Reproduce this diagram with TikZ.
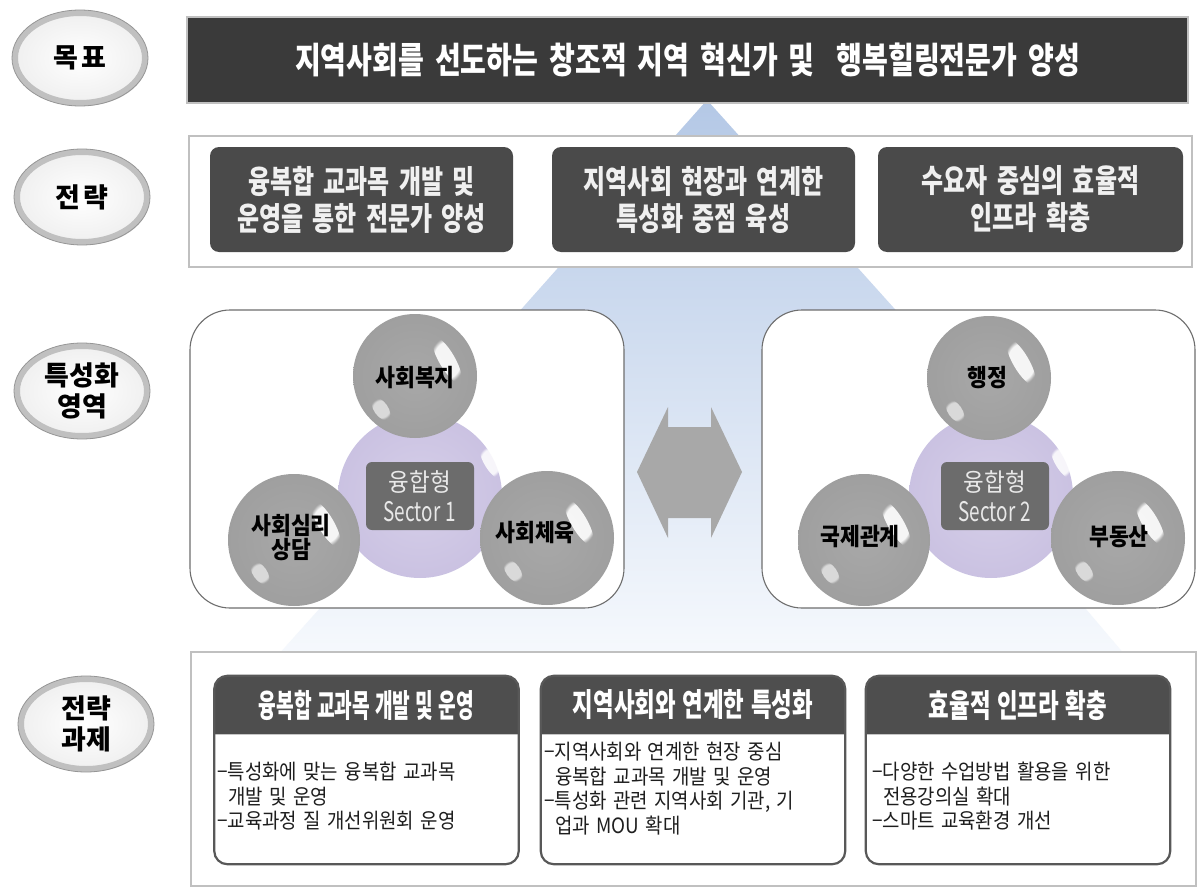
\documentclass[tikz,border=0pt]{standalone}
\usepackage{fontspec}
\setmainfont{Noto Sans CJK KR}
\newfontfamily\kG{Noto Sans CJK KR}[FakeStretch=0.78,WordSpace=1.7]
\newfontfamily\kS{Noto Sans CJK KR}[FakeStretch=0.75,WordSpace=1.7]
\newfontfamily\kB{Noto Sans CJK KR}[FakeStretch=0.9,WordSpace=1.5]
\newfontfamily\kH{Noto Sans CJK KR}[FakeStretch=0.7,WordSpace=1.3]
\newfontfamily\kN{Noto Sans CJK KR}[FakeStretch=0.6,WordSpace=1.2]
\usetikzlibrary{shapes.geometric,shadows,fadings}

\definecolor{goalfill}{RGB}{58,58,58}
\definecolor{stratfill}{RGB}{74,74,74}
\definecolor{strtext}{RGB}{240,240,240}
\definecolor{hdrfill}{RGB}{78,78,78}
\definecolor{boxline}{RGB}{88,88,88}
\definecolor{frameline}{RGB}{192,192,192}
\definecolor{panelline}{RGB}{110,110,110}
\definecolor{sphA}{RGB}{168,168,168}
\definecolor{sphB}{RGB}{156,156,156}
\definecolor{sphC}{RGB}{138,138,138}
\definecolor{sphD}{RGB}{180,180,180}
\definecolor{lavA}{RGB}{214,207,233}
\definecolor{lavB}{RGB}{198,189,223}
\definecolor{lavC}{RGB}{178,167,210}
\definecolor{sectfill}{RGB}{108,108,108}
\definecolor{sectext}{RGB}{232,232,232}
\definecolor{dblcol}{RGB}{168,168,168}
\definecolor{arrtop}{RGB}{180,200,230}
\definecolor{arrbot}{RGB}{246,249,253}
\definecolor{lblring}{RGB}{192,192,192}
\definecolor{lblouter}{RGB}{150,150,150}
\definecolor{bodytext}{RGB}{30,30,30}

\pgfdeclareradialshading{sphshade}{\pgfpoint{0bp}{0bp}}{color(0bp)=(sphA); color(34bp)=(sphB); color(46bp)=(sphC); color(50bp)=(sphD)}
\pgfdeclareradialshading{lavshade}{\pgfpoint{0bp}{0bp}}{color(0bp)=(lavA); color(34bp)=(lavB); color(46bp)=(lavC); color(50bp)=(lavB)}

\tikzset{
  lbl/.style={ellipse, minimum width=130, minimum height=90, inner sep=0,
    inner color=white, outer color=black!6,
    draw=lblring, line width=6, align=center, text=black,
    font=\fontsize{27}{31}\selectfont\bfseries,
    drop shadow={shadow xshift=2pt, shadow yshift=-3pt, opacity=0.35, fill=black!60}},
  lblrim/.style={draw=lblouter, line width=0.8},
  goalbar/.style={rectangle, fill=goalfill, draw=frameline, line width=1.5,
    minimum width=1001, minimum height=86, inner sep=0, text=white,
    font=\kG\fontsize{36}{40}\selectfont\bfseries},
  framebox/.style={rectangle, fill=white, draw=frameline, line width=1.5, inner sep=0},
  stratbox/.style={rectangle, rounded corners=9, fill=stratfill, minimum width=303,
    minimum height=105, inner sep=0, align=center, text=strtext,
    font=\kS\fontsize{32}{37}\selectfont\bfseries},
  panel/.style={rectangle, rounded corners=40, fill=white, draw=panelline,
    line width=1.1, minimum width=434, minimum height=298, inner sep=0},
  gsph/.style={circle, inner sep=0, shading=sphshade},
  lsph/.style={circle, inner sep=0, shading=lavshade},
  sphtext/.style={align=center, inner sep=0, text=black,
    font=\kB\fontsize{24}{24}\selectfont\bfseries},
  sect/.style={rectangle, rounded corners=6, fill=sectfill, minimum width=108,
    minimum height=68, inner sep=0, align=center, text=sectext,
    font=\fontsize{25}{30}\selectfont},
  bbox/.style={rectangle, fill=white, minimum width=304, minimum height=188, inner sep=0},
  bline/.style={draw=boxline, line width=2.2, rounded corners=13},
  hdrtext/.style={text=white, inner sep=0, font=\kH\fontsize{32}{34}\selectfont\bfseries},
  bodytxt/.style={anchor=north west, align=left, inner sep=0, text=bodytext,
    font=\kB\fontsize{21}{24.5}\selectfont},
  hl/.style={white, path fading=circle with fuzzy edge 20 percent}
}

\newcommand{\gloss}[1]{%
  \begin{scope}[shift={(#1.center)}]
    \fill[hl, opacity=0.9, rotate around={30:(32,-16)}] (32,-16) ellipse (8 and 26);
    \fill[hl, opacity=0.6, rotate around={35:(-34,33)}] (-34,33) ellipse (7 and 13);
  \end{scope}}
\newcommand{\lblrimdraw}[1]{%
  \draw[lblrim] (#1.center) ellipse (68 and 48);}

\begin{document}
\begin{tikzpicture}[x=1pt,y=-1pt]
\useasboundingbox (0,0) rectangle (1200,891);
\fill[white] (0,0) rectangle (1200,891);

% big background arrow
\shade[top color=arrtop, bottom color=arrbot]
  (707,100) -- (955,376) -- (832,310) -- (1125,655) -- (278,655) -- (587,310) -- (462,376) -- cycle;

% goal
\node[goalbar] (goal) at (687.5,60) {지역사회를 선도하는 창조적 지역 혁신가 및~ 행복힐링전문가 양성};

% strategy
\node[framebox, minimum width=1003, minimum height=131] (sframe) at (690.5,201.5) {};
\node[stratbox] (s1) at (361.5,199.5) {융복합 교과목 개발 및\\운영을 통한 전문가 양성};
\node[stratbox] (s2) at (703.5,199.5) {지역사회 현장과 연계한\\특성화 중점 육성};
\node[stratbox, minimum width=305] (s3) at (1030.5,199.5) {수요자 중심의 효율적\\인프라 확충};

% labels
\node[lbl] (l1) at (80,58) {목\kern4pt 표};
\node[lbl] (l2) at (82,197) {전\kern4pt 략};
\node[lbl] (l3) at (82,391) {특성화\\영역};
\node[lbl] (l4) at (86,724) {전략\\과제};
\lblrimdraw{l1}\lblrimdraw{l2}\lblrimdraw{l3}\lblrimdraw{l4}

% panels
\node[panel] (lp) at (407,459) {};
\node[panel, minimum width=433] (rp) at (978.5,459) {};

% double arrow between panels
\fill[dblcol] (637,472) -- (668,407) -- (668,427) -- (711,427) -- (711,407) -- (742,472)
  -- (711,538) -- (711,518) -- (668,518) -- (668,538) -- cycle;

% left cluster
\node[lsph, minimum size=164] (c1) at (420,496) {};
\fill[hl, opacity=0.85, rotate around={30:(490,462)}] (490,462) ellipse (6 and 18);
\node[gsph, minimum size=124] (a1) at (415,376) {};
\node[gsph, minimum size=132] (a2) at (294,540) {};
\node[gsph, minimum size=134] (a3) at (547,538) {};
\gloss{a1}\gloss{a2}\gloss{a3}
\node[sphtext] (t1) at (415,378) {사회복지};
\node[sphtext] (t2) at (291,538) {사회심리\\상담};
\node[sphtext] (t3) at (535,533) {사회체육};
\node[sect] (x1) at (420,496) {{\kB 융합형}\\{\kH\fontsize{27}{30}\selectfont Sector 1}};

% right cluster
\node[lsph, minimum size=164] (c2) at (991,496) {};
\fill[hl, opacity=0.85, rotate around={30:(1061,462)}] (1061,462) ellipse (6 and 18);
\node[gsph, minimum size=124] (a4) at (989,378) {};
\node[gsph, minimum size=132] (a5) at (864,540) {};
\node[gsph, minimum size=134] (a6) at (1118,538) {};
\gloss{a4}\gloss{a5}\gloss{a6}
\node[sphtext] (t4) at (987,378) {행정};
\node[sphtext] (t5) at (860,537) {국제관계};
\node[sphtext] (t6) at (1119,537) {부동산};
\node[sect] (x2) at (995,496) {{\kB 융합형}\\{\kH\fontsize{27}{30}\selectfont Sector 2}};

% tasks
\node[framebox, minimum width=1005, minimum height=234] (bframe) at (693.5,769) {};

\node[bbox] (b1) at (366.5,770) {};
\node[bbox] (b2) at (693,770) {};
\node[bbox] (b3) at (1018,770) {};
\foreach \b in {b1,b2,b3}{
  \begin{scope}
    \clip[rounded corners=13] (\b.north west) rectangle (\b.south east);
    \fill[hdrfill] (\b.north west) rectangle ([yshift=-58pt]\b.north east);
  \end{scope}
  \draw[gray!45, line width=1] ([yshift=-59pt]\b.north west) -- ([yshift=-59pt]\b.north east);
  \draw[bline] (\b.north west) rectangle (\b.south east);
}
\node[hdrtext, font=\kN\fontsize{32}{34}\selectfont\bfseries] (h1) at (366.5,705) {융복합 교과목 개발 및 운영};
\node[hdrtext] (h2) at (693,705) {지역사회와 연계한 특성화};
\node[hdrtext] (h3) at (1018,705) {효율적 인프라 확충};

\node[bodytxt] (d1) at (217,762) {−특성화에 맞는 융복합 교과목\\\hspace*{11pt}개발 및 운영\\−교육과정 질 개선위원회 운영};
\node[bodytxt] (d2) at (544,742) {−지역사회와 연계한 현장 중심\\\hspace*{11pt}융복합 교과목 개발 및 운영\\−특성화 관련 지역사회 기관, 기\\\hspace*{11pt}업과 MOU 확대};
\node[bodytxt] (d3) at (872,762) {−다양한 수업방법 활용을 위한\\\hspace*{11pt}전용강의실 확대\\−스마트 교육환경 개선};
\end{tikzpicture}
\end{document}
